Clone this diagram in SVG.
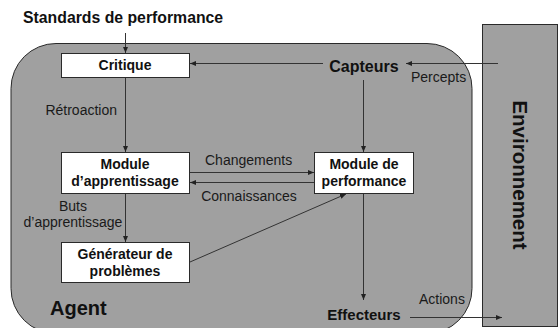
<svg xmlns="http://www.w3.org/2000/svg" width="560" height="328" viewBox="0 0 560 328">
  <style>
    .panel { fill: #a0a0a0; stroke: #2a2a2a; stroke-width: 1; }
    .box { fill: #ffffff; stroke: #2a2a2a; stroke-width: 1; }
    .b { font-family: "Liberation Sans", Arial, sans-serif; font-weight: bold; fill: #111; }
    .n { font-family: "Liberation Sans", Arial, sans-serif; font-size: 14px; fill: #1a1a1a; }
    .edge { stroke: #333; stroke-width: 1; fill: none; marker-end: url(#tip); }
  </style>
  <defs>
    <marker id="tip" viewBox="0 0 6 6" refX="6" refY="3" markerWidth="6" markerHeight="6" markerUnits="userSpaceOnUse" orient="auto">
      <path d="M0,0.5 L6,3 L0,5.5 Z" fill="#222"/>
    </marker>
  </defs>
  <rect width="560" height="328" fill="#ffffff"/>

  <g id="agent">
    <rect class="panel" x="11" y="43.5" width="461" height="290" rx="45" ry="45"/>
    <text class="b" x="50" y="315" font-size="20">Agent</text>
  </g>

  <g id="environnement">
    <rect class="panel" x="482.5" y="24.5" width="75" height="302"/>
    <text class="b" font-size="20.5" text-anchor="middle" transform="translate(512.5,175) rotate(90)">Environnement</text>
  </g>

  <g id="standards">
    <text class="b" x="23" y="23" font-size="15.8">Standards de performance</text>
  </g>

  <g id="critique">
    <rect class="box" x="61.5" y="53.5" width="128" height="24"/>
    <text class="b" x="125" y="70" font-size="14" text-anchor="middle">Critique</text>
  </g>

  <g id="capteurs">
    <text class="b" x="364" y="72" font-size="16" text-anchor="middle">Capteurs</text>
  </g>

  <g id="apprentissage">
    <rect class="box" x="61.5" y="152.5" width="128" height="41"/>
    <text class="b" x="125" y="169" font-size="14" text-anchor="middle">Module</text>
    <text class="b" x="125" y="186" font-size="14" text-anchor="middle">d’apprentissage</text>
  </g>

  <g id="performance">
    <rect class="box" x="314.5" y="152.5" width="99" height="41"/>
    <text class="b" x="364" y="169" font-size="14" text-anchor="middle">Module de</text>
    <text class="b" x="364" y="186" font-size="14" text-anchor="middle">performance</text>
  </g>

  <g id="generateur">
    <rect class="box" x="61.5" y="242.5" width="128" height="40"/>
    <text class="b" x="125" y="259" font-size="14" text-anchor="middle">Générateur de</text>
    <text class="b" x="125" y="276" font-size="14" text-anchor="middle">problèmes</text>
  </g>

  <g id="effecteurs">
    <text class="b" x="364" y="320" font-size="15" text-anchor="middle">Effecteurs</text>
  </g>

  <g id="connectors">
    <line class="edge" x1="125.5" y1="33" x2="125.5" y2="53"/>
    <line class="edge" x1="323" y1="63.5" x2="190" y2="63.5"/>
    <line class="edge" x1="498" y1="63.5" x2="406" y2="63.5"/>
    <line class="edge" x1="125.5" y1="78" x2="125.5" y2="152"/>
    <line class="edge" x1="363.5" y1="80" x2="363.5" y2="152"/>
    <line class="edge" x1="190" y1="172.5" x2="314" y2="172.5"/>
    <line class="edge" x1="314" y1="182.5" x2="190" y2="182.5"/>
    <line class="edge" x1="125.5" y1="194" x2="125.5" y2="242"/>
    <line class="edge" x1="190" y1="262" x2="346" y2="194"/>
    <line class="edge" x1="363.5" y1="194" x2="363.5" y2="300"/>
    <line class="edge" x1="410" y1="317.5" x2="502" y2="317.5"/>

    <text class="n" x="117" y="115" text-anchor="end">Rétroaction</text>
    <text class="n" x="411" y="82">Percepts</text>
    <text class="n" x="205" y="165">Changements</text>
    <text class="n" x="249" y="201" text-anchor="middle">Connaissances</text>
    <text class="n" x="73" y="211" text-anchor="middle">Buts</text>
    <text class="n" x="73" y="227" text-anchor="middle">d’apprentissage</text>
    <text class="n" x="419" y="304">Actions</text>
  </g>
</svg>
